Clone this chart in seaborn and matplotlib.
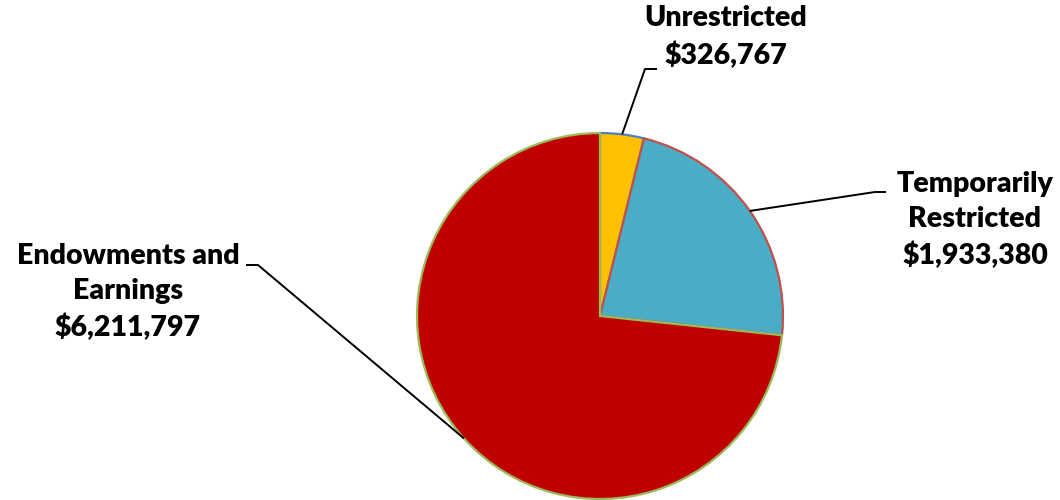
import numpy as np
import matplotlib
matplotlib.use("Agg")
import matplotlib.pyplot as plt
import seaborn as sns

categories = ["Unrestricted", "Temporarily\nRestricted", "Endowments and\nEarnings"]
values = [326767, 1933380, 6211797]
value_labels = ["$326,767", "$1,933,380", "$6,211,797"]
colors = ["#FFC000", "#4BACC6", "#C00000"]
edge_colors = ["#4F81BD", "#C0504D", "#9BBB59"]

sns.set_theme(style="white")
plt.rcParams['font.family'] = ['Lato', 'DejaVu Sans']

W, H = 1060, 500
fig = plt.figure(figsize=(W / 100, H / 100), dpi=100)
cx, cy, r = 600, 316, 183
ax = fig.add_axes([(cx - r) / W, (H - cy - r) / H, 2 * r / W, 2 * r / H])
wedges, _ = ax.pie(values, colors=colors, startangle=90, counterclock=False,
                   radius=1.0, wedgeprops=dict(linewidth=1.6))
for w, ec in zip(wedges, edge_colors):
    w.set_edgecolor(ec)
ax.set_xlim(-1, 1)
ax.set_ylim(-1, 1)
ax.set_aspect('equal')
ax.axis('off')

def px(x, y):
    return ((x - cx) / r, (cy - y) / r)

# label layout: (elbow, end, text center) in pixel coordinates
layout = [
    ((645, 69), (657, 69), (726, 37)),
    ((875, 192), (886, 192), (975, 220)),
    ((258, 265), (246, 265), (128, 292)),
]

for w, cat, vl, (elb, end, tc) in zip(wedges, categories, value_labels, layout):
    mid = np.deg2rad((w.theta1 + w.theta2) / 2)
    ax0, ay0 = np.cos(mid), np.sin(mid)
    ex, ey = px(*elb)
    nx, ny = px(*end)
    ax.plot([ax0, ex, nx], [ay0, ey, ny], color="black", lw=1.4, clip_on=False,
            solid_capstyle="butt")
    tx, ty = px(*tc)
    ax.text(tx, ty, f"{cat}\n{vl}", ha="center", va="center", fontsize=20.5,
            fontweight="heavy", color="black", linespacing=1.45, clip_on=False)

fig.savefig("out.png", dpi=100)
